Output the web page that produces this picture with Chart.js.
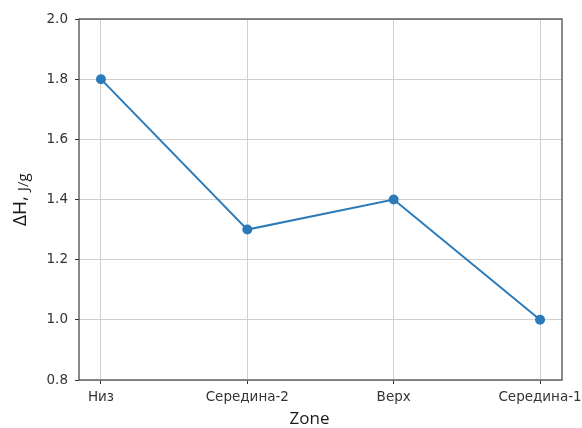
<!DOCTYPE html>
<html>
<head>
<meta charset="utf-8">
<script src="https://cdn.jsdelivr.net/npm/chart.js@4.4.1/dist/chart.umd.min.js"></script>
<style>
  html, body { margin: 0; padding: 0; background: #fff; }
  #wrap { width: 582px; height: 428px; }
</style>
</head>
<body>
<div id="wrap"><canvas id="c" width="582" height="428"></canvas></div>
<script>
// Zones along the column and the enthalpy change measured in each
const zones = ['Низ', 'Середина-2', 'Верх', 'Середина-1'];
const deltaH = [1.8, 1.3, 1.4, 1.0];
const yTicks = [0.8, 1.0, 1.2, 1.4, 1.6, 1.8, 2.0];

const tickFont = { family: 'DejaVu Sans', size: 13.5 };
const tickColor = '#333';

// Frame around the plotting area and the two axis titles
const framePlugin = {
  id: 'frame',
  afterDatasetsDraw(chart) {
    const { ctx, chartArea: a } = chart;
    ctx.save();
    ctx.strokeStyle = '#4a4a4a';
    ctx.lineWidth = 1.3;
    ctx.strokeRect(a.left, a.top, a.right - a.left, a.bottom - a.top);
    ctx.restore();
  },
  afterDraw(chart) {
    const { ctx, chartArea: a } = chart;
    ctx.save();
    ctx.fillStyle = '#1a1a1a';
    // x title
    ctx.font = '17px "Open Sans"';
    ctx.textAlign = 'center';
    ctx.textBaseline = 'alphabetic';
    ctx.fillText('Zone', (a.left + a.right) / 2 - 11, 424);
    // y title, rotated; the unit is set smaller and a little lower
    ctx.translate(26, a.bottom - 154);
    ctx.rotate(-Math.PI / 2);
    ctx.textAlign = 'left';
    ctx.font = '19px "Open Sans"';
    const p1 = 'ΔH, ';
    ctx.fillText(p1, 0, 0);
    const w1 = ctx.measureText(p1).width;
    ctx.font = '15px "Open Sans"';
    ctx.fillText('J/g', w1, 2);
    ctx.restore();
  }
};

new Chart(document.getElementById('c'), {
  type: 'line',
  data: {
    datasets: [{
      data: deltaH.map((v, i) => ({ x: i, y: v })),
      borderColor: '#2b7bba',
      backgroundColor: '#2b7bba',
      borderWidth: 2,
      pointRadius: 5,
      pointHoverRadius: 5,
      pointBorderWidth: 0,
      tension: 0
    }]
  },
  options: {
    responsive: false,
    animation: false,
    devicePixelRatio: 1,
    layout: { padding: { top: 19, right: 20, left: 0, bottom: 0 } },
    plugins: { legend: { display: false }, tooltip: { enabled: false } },
    scales: {
      x: {
        type: 'linear',
        min: -0.15,
        max: zones.length - 1 + 0.15,
        afterBuildTicks(axis) { axis.ticks = zones.map((_, i) => ({ value: i })); },
        afterFit(axis) {
          axis.height = 48;
          // end labels may run past the frame; keep the frame where it is
          axis.paddingLeft = 0;
          axis.paddingRight = 0;
        },
        ticks: {
          font: tickFont,
          color: tickColor,
          padding: 5,
          maxRotation: 0,
          autoSkip: false,
          callback: (v) => zones[v]
        },
        grid: { color: '#d0d0d0', lineWidth: 1, tickLength: 4, tickColor: '#333', tickWidth: 1 },
        border: { display: false }
      },
      y: {
        min: 0.8,
        max: 2.0,
        afterBuildTicks(axis) { axis.ticks = yTicks.map(v => ({ value: v })); },
        afterFit(axis) {
          axis.width = 79;
          axis.paddingTop = 0;
          axis.paddingBottom = 0;
        },
        ticks: {
          font: tickFont,
          color: tickColor,
          padding: 7,
          callback: (v) => v.toFixed(1)
        },
        grid: { color: '#d0d0d0', lineWidth: 1, tickLength: 4, tickColor: '#333', tickWidth: 1 },
        border: { display: false }
      }
    }
  },
  plugins: [framePlugin]
});
</script>
</body>
</html>
